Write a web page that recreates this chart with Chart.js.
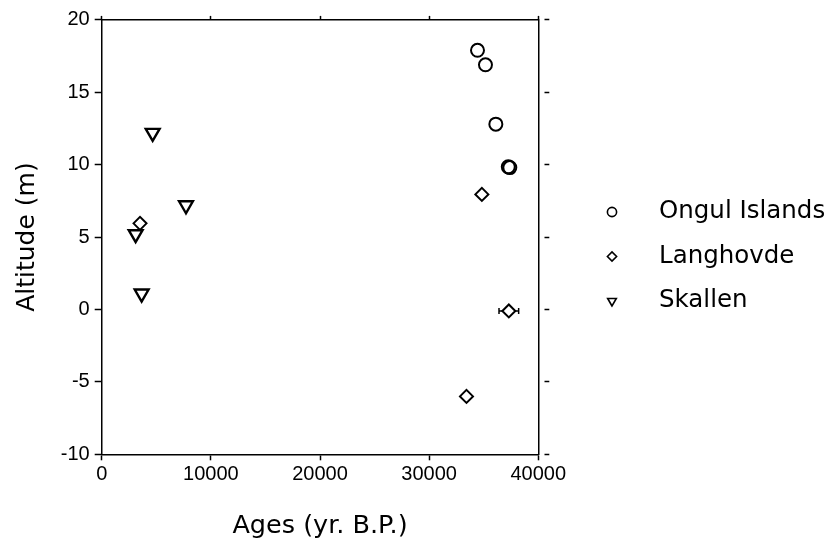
<!DOCTYPE html>
<html>
<head>
<meta charset="utf-8">
<title>Altitude vs Ages</title>
<script src="https://cdn.jsdelivr.net/npm/chart.js@4/dist/chart.umd.min.js"></script>
<style>
    body { margin: 0; background: #fff; }
    #wrap { position: relative; width: 832px; height: 545px; }
</style>
</head>
<body>
<div id="wrap"><canvas id="chart"></canvas></div>
<script>
// Data (ages in yr B.P., altitude in m)
const ongulAge = [34430, 35160, 36110, 37250, 37390];
const ongulAlt = [17.9, 16.9, 12.8, 9.85, 9.8];

const langhovdeAge = [3510, 34830, 37300, 33420];
const langhovdeAlt = [5.95, 7.95, -0.1, -6.0];
const langhovdeAgeErr = [0, 0, 900, 0];

const skallenAge = [4670, 7720, 3110, 3660];
const skallenAlt = [12.2, 7.2, 5.2, 1.1];

const xTicks = [0, 10000, 20000, 30000, 40000];
const yTicks = [-10, -5, 0, 5, 10, 15, 20];

const seriesNames = ['Ongul Islands', 'Langhovde', 'Skallen'];

const tickFont = { family: '"Liberation Sans", Arial, sans-serif', size: 20 };
const xTitleFont = { family: '"DejaVu Sans", sans-serif', size: 25.5 };
const yTitleFont = { family: '"DejaVu Sans", sans-serif', size: 25 };

function toPoints(xs, ys) {
    return xs.map((x, i) => ({ x: x, y: ys[i] }));
}

// Horizontal age error bars, drawn under the markers
const errorBars = {
    id: 'errorBars',
    beforeDatasetsDraw(chart) {
        const ctx = chart.ctx;
        const xs = chart.scales.x, ys = chart.scales.y;
        ctx.save();
        ctx.strokeStyle = '#000';
        ctx.lineWidth = 1.5;
        langhovdeAge.forEach((age, i) => {
            const err = langhovdeAgeErr[i];
            if (!err) return;
            const x1 = xs.getPixelForValue(age - err);
            const x2 = xs.getPixelForValue(age + err);
            const y = ys.getPixelForValue(langhovdeAlt[i]);
            ctx.beginPath();
            ctx.moveTo(x1, y); ctx.lineTo(x2, y);
            ctx.moveTo(x1, y - 3); ctx.lineTo(x1, y + 3);
            ctx.moveTo(x2, y - 3); ctx.lineTo(x2, y + 3);
            ctx.stroke();
        });
        ctx.restore();
    }
};

// Legend on the right, like the original figure
const sideLegend = {
    id: 'sideLegend',
    afterDraw(chart) {
        const ctx = chart.ctx;
        ctx.save();
        chart.data.datasets.forEach((ds, i) => {
            const y = 212 + i * 44.5;
            ctx.strokeStyle = '#000';
            ctx.fillStyle = '#fff';
            ctx.lineWidth = 1.6;
            Chart.helpers.drawPoint(ctx, {
                pointStyle: ds.pointStyle,
                radius: ds.pointStyle === 'triangle' ? 5 : 4.6,
                rotation: ds.rotation || 0,
                borderWidth: 1.6
            }, 612, y);
            ctx.fillStyle = '#000';
            ctx.font = '24.5px "DejaVu Sans", sans-serif';
            ctx.textBaseline = 'middle';
            ctx.textAlign = 'left';
            ctx.fillText(ds.label, 659, y);
        });
        ctx.restore();
    }
};

const axisCommon = {
    type: 'linear',
    border: { display: true, color: '#000', width: 1.5 },
    grid: { drawOnChartArea: false, drawTicks: true, tickColor: '#000', tickWidth: 1.5 }
};

new Chart(document.getElementById('chart'), {
    type: 'scatter',
    data: {
        datasets: [
            {
                label: seriesNames[0],
                data: toPoints(ongulAge, ongulAlt),
                pointStyle: 'circle',
                pointRadius: 6.5,
                borderColor: '#000',
                backgroundColor: 'rgba(255,255,255,0)',
                borderWidth: 2
            },
            {
                label: seriesNames[1],
                data: toPoints(langhovdeAge, langhovdeAlt),
                pointStyle: 'rectRot',
                pointRadius: 6.5,
                borderColor: '#000',
                backgroundColor: '#fff',
                borderWidth: 2
            },
            {
                label: seriesNames[2],
                data: toPoints(skallenAge, skallenAlt),
                pointStyle: 'triangle',
                rotation: 180,
                pointRadius: 8,
                borderColor: '#000',
                backgroundColor: 'rgba(255,255,255,0)',
                borderWidth: 2.4
            }
        ]
    },
    options: {
        responsive: true,
        maintainAspectRatio: false,
        animation: false,
        layout: { padding: { left: 12, right: 281.7, top: 11.9, bottom: 3.7 } },
        plugins: {
            legend: { display: false },
            tooltip: { enabled: false }
        },
        scales: {
            x: {
                ...axisCommon,
                position: 'bottom',
                min: 0, max: 40000,
                afterBuildTicks: s => { s.ticks = xTicks.map(v => ({ value: v })); },
                grid: { ...axisCommon.grid, tickLength: 6 },
                ticks: { color: '#000', font: tickFont, padding: 2, maxRotation: 0, callback: v => String(v) },
                title: { display: true, text: 'Ages (yr. B.P.)', color: '#000', font: xTitleFont, padding: 0 },
                afterFit: s => { s.height = 87; }
            },
            x2: {
                ...axisCommon,
                position: 'top',
                min: 0, max: 40000,
                afterBuildTicks: s => { s.ticks = xTicks.map(v => ({ value: v })); },
                grid: { ...axisCommon.grid, tickLength: 4 },
                ticks: { display: false },
                afterFit: s => { s.height = 8; }
            },
            y: {
                ...axisCommon,
                position: 'left',
                min: -10, max: 20,
                afterBuildTicks: s => { s.ticks = yTicks.map(v => ({ value: v })); },
                grid: { ...axisCommon.grid, tickLength: 7 },
                ticks: { color: '#000', font: tickFont, padding: 5 },
                title: { display: true, text: 'Altitude (m)', color: '#000', font: yTitleFont, padding: 0 },
                afterFit: s => { s.width = 89.7; }
            },
            y2: {
                ...axisCommon,
                position: 'right',
                min: -10, max: 20,
                afterBuildTicks: s => { s.ticks = yTicks.map(v => ({ value: v })); },
                grid: { ...axisCommon.grid, tickLength: 11, tickBorderDash: [0, 5, 5, 50] },
                ticks: { display: false },
                afterFit: s => { s.width = 12; }
            }
        }
    },
    plugins: [errorBars, sideLegend]
});
</script>
</body>
</html>
